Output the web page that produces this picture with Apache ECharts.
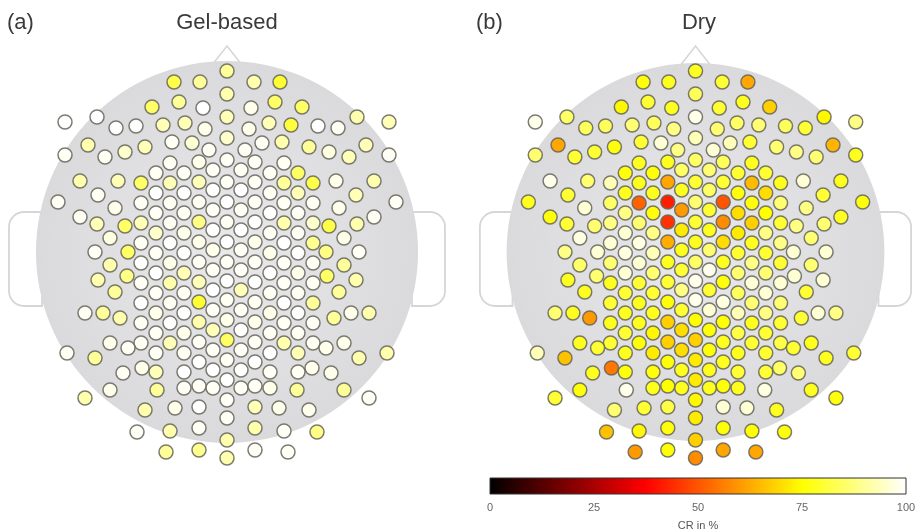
<!DOCTYPE html>
<html>
<head>
<meta charset="utf-8">
<script src="https://cdn.jsdelivr.net/npm/echarts@6/dist/echarts.min.js"></script>
<style>
html,body{margin:0;padding:0;background:#fff;}
#chart{width:921px;height:532px;}
</style>
</head>
<body>
<div id="chart"></div>
<script>
// Electrode positions in head coordinates (u: right, v: up; head radius 190)
const electrodePos = [
  // midline
  [0,181],[0,158],[0,135],[0,114],[0,92],[0,70],[0,50],[0,30],[0,10],[0,-10],[0,-29],[0,-48],[0,-68],[0,-88],[0,-108],[0,-128],[0,-148],[0,-166],[0,-188],[0,-206],
  // u = -14
  [-14,82],[-14,62],[-14,42],[-14,22],[-14,2],[-14,-18],[-14,-38],[-14,-58],[-14,-78],[-14,-98],[-14,-118],[-14,-136],
  // u = 14
  [14,82],[14,62],[14,42],[14,22],[14,2],[14,-18],[14,-38],[14,-58],[14,-78],[14,-98],[14,-118],[14,-136],
  // u = -28
  [-28,90],[-28,70],[-28,50],[-28,30],[-28,10],[-28,-10],[-28,-30],[-28,-50],[-28,-70],[-28,-90],[-28,-110],[-28,-134],[-28,-155],[-28,-176],[-28,-198],
  // u = 28
  [28,90],[28,70],[28,50],[28,30],[28,10],[28,-10],[28,-30],[28,-50],[28,-70],[28,-90],[28,-110],[28,-134],[28,-155],[28,-176],[28,-198],
  // u = -43
  [-43,79],[-43,59],[-43,39],[-43,19],[-43,-1],[-43,-21],[-43,-41],[-43,-61],[-43,-81],[-43,-101],[-43,-120],[-43,-136],
  // u = 43
  [43,79],[43,59],[43,39],[43,19],[43,-1],[43,-21],[43,-41],[43,-61],[43,-81],[43,-101],[43,-120],[43,-136],
  // u = -57
  [-57,89],[-57,69],[-57,49],[-57,29],[-57,9],[-57,-11],[-57,-31],[-57,-51],[-57,-71],[-57,-91],
  // u = 57
  [57,89],[57,69],[57,49],[57,29],[57,9],[57,-11],[57,-31],[57,-51],[57,-71],[57,-91],
  // u = -71
  [-71,79],[-71,59],[-71,39],[-71,19],[-71,-1],[-71,-21],[-71,-41],[-71,-61],[-71,-81],[-71,-101],[-71,-120],
  // u = 71
  [71,79],[71,59],[71,39],[71,19],[71,-1],[71,-21],[71,-41],[71,-61],[71,-81],[71,-101],[71,-120],
  // u = -86
  [-86,69],[-86,49],[-86,29],[-86,9],[-86,-11],[-86,-31],[-86,-51],[-86,-71],[-86,-91],
  // u = 86
  [86,69],[86,49],[86,29],[86,9],[86,-11],[86,-31],[86,-51],[86,-71],[86,-91],
  // frontal
  [-53,170],[-27,170],[27,170],[53,170],
  [-75,145],[-48,150],[-24,144],[24,144],[48,150],[75,145],
  [-162,130],[-130,135],[130,135],[162,130],
  [-111,124],[-91,126],[-64,127],[-42,129],[-22,123],[22,123],[42,129],[64,127],[91,126],[111,124],
  [-139,107],[-82,105],[-55,110],[-35,109],[35,109],[55,110],[82,105],[139,107],
  [-162,97],[-122,95],[-102,100],[-18,102],[18,102],[102,100],[122,95],[162,97],
  // left side
  [-169,50],[-147,71],[-109,71],[-129,57],[-112,44],[-147,35],[-130,28],[-102,26],[-117,14],[-132,0],[-99,0],[-117,-13],[-129,-28],[-100,-24],[-112,-40],[-142,-61],[-124,-61],[-107,-66],[-117,-91],[-99,-96],[-160,-101],[-132,-106],[-104,-121],[-117,-138],[-142,-146],
  // right side
  [169,50],[147,71],[109,71],[129,57],[112,44],[147,35],[130,28],[102,26],[117,14],[132,0],[99,0],[117,-13],[129,-28],[100,-24],[112,-40],[142,-61],[124,-61],[107,-66],[117,-91],[99,-96],[160,-101],[132,-106],[104,-121],[117,-138],[142,-146],
  // occipital
  [-70,-138],[70,-138],[-85,-116],[85,-116],[-82,-158],[82,-158],[-52,-156],[52,-156],[-90,-180],[90,-180],[-57,-179],[57,-179],[-61,-200],[61,-200]
];

// CR in % for the gel-based electrodes (same order as electrodePos)
const gelCR = [
  90,92,93,95,99,99,100,99,100,99,100,99,98,85,99,100,99,99,92,92,
  99,100,99,100,98,99,100,99,93,99,100,99,
  99,100,99,100,99,99,93,99,100,99,100,99,
  98,93,99,88,98,99,93,80,92,99,100,99,100,99,89,
  99,99,99,100,98,99,100,99,98,99,100,99,93,92,99,
  99,100,99,98,100,93,99,100,98,99,100,99,
  99,99,100,99,98,100,99,98,99,100,99,98,
  99,93,99,99,100,98,92,99,100,93,
  99,90,99,92,100,99,99,100,99,92,
  99,100,99,95,99,100,99,98,99,99,93,
  85,93,99,99,100,98,99,100,99,93,99,
  85,99,93,99,100,99,100,99,99,
  82,99,95,89,99,99,90,99,99,
  82,90,92,80,
  85,90,100,98,85,85,
  100,100,92,93,
  100,100,93,93,98,98,93,81,100,99,
  92,93,99,96,99,92,90,93,
  99,99,95,99,99,97,93,99,
  99,92,93,99,98,99,93,85,97,99,85,92,92,88,90,99,90,92,98,99,99,90,99,98,92,
  99,92,98,93,98,99,92,82,98,99,88,90,92,85,90,92,98,90,98,98,92,92,98,90,99,
  90,90,98,98,92,98,98,98,99,88,92,99,90,99
];

// CR in % for the dry electrodes (same order as electrodePos)
const dryCR = [
  78,84,98,93,85,80,86,80,78,85,98,98,75,68,72,72,74,72,68,58,
  85,78,60,72,78,80,88,80,70,70,78,78,
  86,85,80,78,86,98,80,96,76,76,78,78,
  78,62,42,45,63,78,80,76,68,68,76,75,82,76,75,
  84,80,50,58,70,78,76,97,75,78,78,76,96,76,62,
  76,78,76,88,93,86,80,78,74,72,76,78,
  80,76,70,72,80,86,84,93,82,78,80,78,
  78,78,52,86,97,96,80,78,78,76,
  78,65,76,68,78,88,96,86,78,80,
  76,78,88,96,97,96,80,78,80,78,76,
  80,70,75,88,80,86,96,88,80,80,80,
  93,85,88,96,86,78,80,78,80,
  78,86,80,88,80,96,86,80,82,
  76,78,80,62,
  74,80,78,80,78,68,
  98,85,74,88,
  84,84,86,84,88,86,85,86,84,80,
  62,76,80,96,93,80,86,64,
  86,80,80,88,96,88,86,78,
  78,98,86,80,96,76,80,86,97,88,96,85,78,86,78,86,78,60,78,80,93,66,78,76,80,
  76,78,96,80,88,78,86,88,86,96,96,86,96,96,80,88,96,80,78,80,80,78,86,78,76,
  98,97,55,85,86,78,80,96,66,76,74,75,60,62
];

const panelLabels = ['(a)', '(b)'];
const panelTitles = ['Gel-based', 'Dry'];
const colorbarTicks = [0, 25, 50, 75, 100];
const colorbarTitle = 'CR in %';

// "hot" colormap sampled evenly
const hotColors = ['#000000','#550000','#aa0000','#ff0000','#ff5500','#ffaa00','#ffff00','#ffff80','#ffffff'];

const gelData = electrodePos.map((p, i) => [p[0], p[1], gelCR[i]]);
const dryData = electrodePos.map((p, i) => [p[0], p[1], dryCR[i]]);

const chart = echarts.init(document.getElementById('chart'), null, {renderer: 'canvas'});

const headAxisX = {type: 'value', min: -227, max: 228, show: false};
const headAxisY = {type: 'value', min: -280, max: 252, show: false};

const colorbarGradient = new echarts.graphic.LinearGradient(0, 0, 1, 0, [
  {offset: 0, color: '#000000'},
  {offset: 0.375, color: '#ff0000'},
  {offset: 0.75, color: '#ffff00'},
  {offset: 1, color: '#ffffff'}
]);

const scatterStyle = {
  type: 'scatter',
  symbol: 'circle',
  symbolSize: 14,
  itemStyle: {borderColor: 'rgba(100,100,90,0.85)', borderWidth: 1.5, opacity: 1},
  emphasis: {disabled: true},
  z: 3
};

const uiFont = 'Liberation Sans, Arial, sans-serif';

const option = {
  backgroundColor: '#ffffff',
  animation: false,
  grid: [
    {left: 0, top: 0, width: 455, height: 532},
    {left: 471, top: 0, width: 455, height: 532},
    {left: 490, top: 478, width: 416, height: 19, show: true, backgroundColor: colorbarGradient, borderColor: '#333', borderWidth: 1}
  ],
  xAxis: [
    Object.assign({gridIndex: 0}, headAxisX),
    Object.assign({gridIndex: 1}, headAxisX),
    {
      gridIndex: 2, type: 'value', min: colorbarTicks[0], max: colorbarTicks[colorbarTicks.length - 1], interval: 25,
      axisLine: {show: false}, axisTick: {show: false}, splitLine: {show: false},
      axisLabel: {color: '#666', fontSize: 11, margin: 8, fontFamily: uiFont},
      name: colorbarTitle, nameLocation: 'middle', nameGap: 26,
      nameTextStyle: {color: '#555', fontSize: 11, fontFamily: uiFont}
    }
  ],
  yAxis: [
    Object.assign({gridIndex: 0}, headAxisY),
    Object.assign({gridIndex: 1}, headAxisY),
    {gridIndex: 2, type: 'value', min: 0, max: 1, show: false}
  ],
  visualMap: {
    type: 'continuous', show: false, min: 0, max: 100, dimension: 2, seriesIndex: [0, 1],
    inRange: {color: hotColors}
  },
  series: [
    Object.assign({xAxisIndex: 0, yAxisIndex: 0, data: gelData}, scatterStyle),
    Object.assign({xAxisIndex: 1, yAxisIndex: 1, data: dryData}, scatterStyle),
    {type: 'scatter', xAxisIndex: 2, yAxisIndex: 2, data: [], silent: true}
  ]
};

chart.setOption(option);

function buildHeadGraphics(gridIndex) {
  const c = chart.convertToPixel({gridIndex: gridIndex}, [0, 0]);
  const r = chart.convertToPixel({gridIndex: gridIndex}, [191, 0])[0] - c[0];
  const toPx = (u, v) => chart.convertToPixel({gridIndex: gridIndex}, [u, v]);
  const els = [];
  // ears
  [[-218, -185, [15, 0, 0, 15]], [185, 218, [0, 15, 15, 0]]].forEach(e => {
    const p1 = toPx(e[0], 40), p2 = toPx(e[1], -54);
    els.push({
      type: 'rect', z: 0,
      shape: {x: p1[0], y: p1[1], width: p2[0] - p1[0], height: p2[1] - p1[1], r: e[2]},
      style: {fill: '#ffffff', stroke: '#d6d6d8', lineWidth: 1.8}
    });
  });
  // nose
  const n1 = toPx(-15, 187), n2 = toPx(0, 206), n3 = toPx(15, 187);
  els.push({
    type: 'polyline', z: 0,
    shape: {points: [n1, n2, n3]},
    style: {stroke: '#d6d6d8', lineWidth: 1.5, fill: null}
  });
  // head
  els.push({
    type: 'circle', z: 1,
    shape: {cx: c[0], cy: c[1], r: r},
    style: {
      fill: new echarts.graphic.RadialGradient(0.5, 0.5, 0.5, [
        {offset: 0, color: '#e9e9eb'},
        {offset: 1, color: '#dadadc'}
      ])
    }
  });
  return els;
}

const font = '22px "Liberation Sans", Arial, sans-serif';
const labelEls = [
  {type: 'text', z: 5, style: {text: panelLabels[0], x: 7, y: 23, font: font, fill: '#3a3a3a', textAlign: 'left', textVerticalAlign: 'middle'}},
  {type: 'text', z: 5, style: {text: panelTitles[0], x: 227, y: 23, font: font, fill: '#3a3a3a', textAlign: 'center', textVerticalAlign: 'middle'}},
  {type: 'text', z: 5, style: {text: panelLabels[1], x: 476, y: 23, font: font, fill: '#3a3a3a', textAlign: 'left', textVerticalAlign: 'middle'}},
  {type: 'text', z: 5, style: {text: panelTitles[1], x: 699, y: 23, font: font, fill: '#3a3a3a', textAlign: 'center', textVerticalAlign: 'middle'}}
];

chart.setOption({
  graphic: buildHeadGraphics(0).concat(buildHeadGraphics(1)).concat(labelEls)
});
</script>
</body>
</html>
